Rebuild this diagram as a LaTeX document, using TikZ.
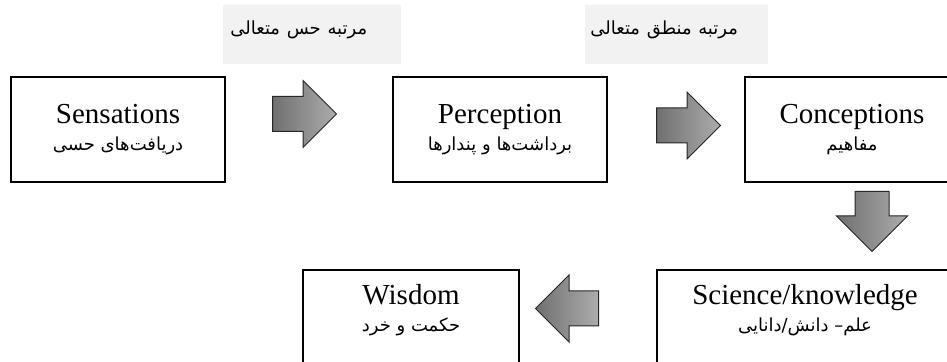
\documentclass[tikz,border=0pt]{standalone}
\usepackage{fontspec}
\setmainfont{Liberation Serif}
\newfontfamily\farsifont[Script=Arabic]{DejaVu Sans}
\TeXXeTstate=1
\usetikzlibrary{shapes.arrows}
\definecolor{levelgray}{RGB}{242,242,242}
\definecolor{arrowdark}{RGB}{112,112,112}
\definecolor{arrowlight}{RGB}{172,172,172}
\newcommand{\fatext}[1]{{\farsifont\fontsize{9}{11}\selectfont\beginR #1\endR}}
\newcommand{\lowstrut}{\rule[-10pt]{0pt}{0pt}}

\begin{document}
\begin{tikzpicture}[
    x=0.5pt, y=-0.5pt,
    stage/.style={rectangle, draw=black, line width=0.75pt, minimum width=107pt,
        minimum height=52.5pt, inner sep=0pt, align=center,
        font=\fontsize{14.5}{13.5}\selectfont},
    level/.style={rectangle, fill=levelgray, anchor=north west, align=left,
        inner ysep=0pt, inner xsep=3.5pt, text height=14.5pt, text depth=15pt},
    bigarrow/.style={single arrow, draw=black!85, line width=0.5pt,
        left color=arrowdark, right color=arrowlight, inner sep=8.5pt,
        minimum height=32pt, minimum width=33pt, anchor=tail,
        single arrow head extend=8pt, single arrow head indent=0pt},
    ]
    \useasboundingbox (0,0) rectangle (947,362);

    \node (lvl-sense) [level, text width=82pt] at (223,5) {\fatext{مرتبه حس متعالی}};
    \node (lvl-logic) [level, text width=86.5pt, inner xsep=2.5pt] at (585,5)
        {\fatext{مرتبه منطق متعالی}};

    \node (sens) [stage] at (118,129.5) {Sensations\\ \fatext{دریافت‌های حسی}};
    \node (perc) [stage] at (500,129.5) {Perception\\ \fatext{برداشت‌ها و پندارها}};
    \node (conc) [stage] at (852,129.5) {Conceptions\\ \fatext{مفاهیم}};
    \node (sci) [stage, minimum width=148pt, minimum height=48pt] at (805,318)
        {Science/knowledge\\ \fatext{علم– دانش/دانایی}\lowstrut};
    \node (wis) [stage, minimum width=108pt, minimum height=48pt] at (411,318)
        {Wisdom\\ \fatext{حکمت و خرد}\lowstrut};

    \node (sens-perc) [bigarrow] at (272,114) {};
    \node (perc-conc) [bigarrow] at (656,125.5) {};
    \node (conc-sci) [bigarrow, shape border rotate=270, minimum height=30pt,
        minimum width=35pt, inner sep=8.25pt, single arrow head extend=9.25pt]
        at (872,191) {};
    \node (sci-wis) [bigarrow, shape border rotate=180, minimum height=31.5pt]
        at (599,308.5) {};
\end{tikzpicture}
\end{document}
